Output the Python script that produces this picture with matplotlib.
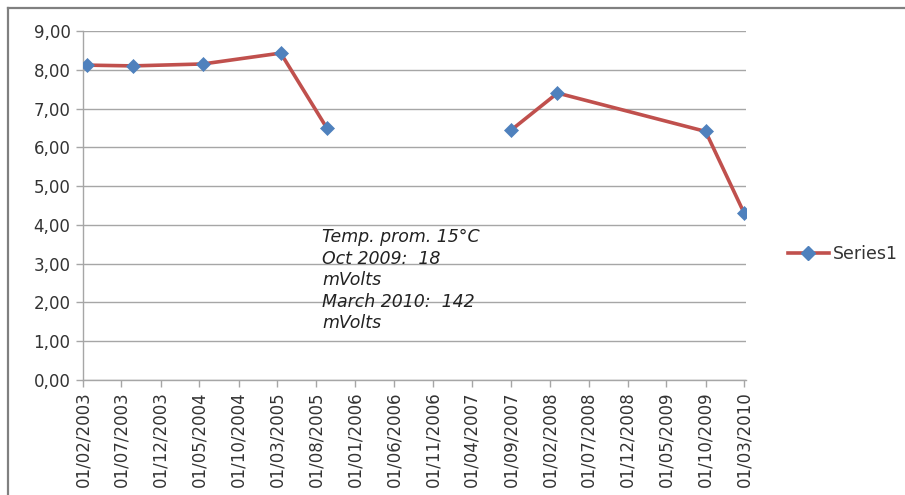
import numpy as np
import pandas as pd
import matplotlib
matplotlib.use('Agg')
import matplotlib.pyplot as plt
from matplotlib.lines import Line2D

plt.rcParams['font.family'] = ['DejaVu Sans']

# measurement dates (dd/mm/yyyy); the NaN row leaves the gap in the line
dates = ['15/02/2003', '15/08/2003', '15/05/2004', '15/03/2005', '12/09/2005',
         '01/06/2006',
         '01/09/2007', '01/03/2008', '01/10/2009', '01/03/2010']
values = [8.12, 8.10, 8.15, 8.43, 6.49,
          np.nan,
          6.44, 7.40, 6.41, 4.30]
series_name = 'Series1'

tick_dates = ['01/02/2003', '01/07/2003', '01/12/2003', '01/05/2004', '01/10/2004',
              '01/03/2005', '01/08/2005', '01/01/2006', '01/06/2006', '01/11/2006',
              '01/04/2007', '01/09/2007', '01/02/2008', '01/07/2008', '01/12/2008',
              '01/05/2009', '01/10/2009', '01/03/2010']
y_ticks = [0, 1, 2, 3, 4, 5, 6, 7, 8, 9]

note = 'Temp. prom. 15°C\nOct 2009:  18\nmVolts\nMarch 2010:  142\nmVolts'

x = pd.to_datetime(dates, dayfirst=True)
xt = pd.to_datetime(tick_dates, dayfirst=True)

fig = plt.figure(figsize=(9.05, 4.95), dpi=100)
ax = fig.add_axes([83 / 905, 1 - 380 / 495, (746 - 83) / 905, (380 - 31) / 495])

ax.plot(x, values, color='#C0504D', lw=2.6, marker='D', ms=7,
        mfc='#4F81BD', mec='#4F81BD', mew=0.5, label=series_name, zorder=3)

ax.set_xlim(xt[0], pd.Timestamp('2010-03-08'))
ax.set_ylim(0, 9)
ax.set_yticks(y_ticks)
ax.set_yticklabels([f'{v:.2f}'.replace('.', ',') for v in y_ticks])
ax.set_xticks(xt)
ax.set_xticklabels(tick_dates, rotation=90)

ax.grid(axis='y', color='#a6a6a6', lw=1)
ax.set_axisbelow(True)
for s in ['top', 'right']:
    ax.spines[s].set_visible(False)
for s in ['left', 'bottom']:
    ax.spines[s].set_color('#a6a6a6')
    ax.spines[s].set_linewidth(1)
ax.tick_params(axis='both', colors='#a6a6a6', labelcolor='#333333',
               labelsize=12, length=5, width=1)
ax.tick_params(axis='y', pad=4)
ax.tick_params(axis='x', pad=3)

# text box inside the plot
fig.text(322 / 905, 1 - 228 / 495, note, ha='left', va='top', fontsize=12.5,
         style='italic', color='#222222', linespacing=1.25)

leg = fig.legend(handles=[Line2D([], [], color='#C0504D', lw=2.6, marker='D', ms=7,
                                 mfc='#4F81BD', mec='#4F81BD')],
                 labels=[series_name], loc='center left',
                 bbox_to_anchor=(772 / 905, 1 - 254 / 495), frameon=False,
                 fontsize=12.5, handlelength=2.4, handletextpad=0.2)
for t in leg.get_texts():
    t.set_color('#333333')

# outer chart frame (only top and left edges are in view)
fig.add_artist(Line2D([8 / 905, 1], [1 - 8 / 495, 1 - 8 / 495], color='#808080', lw=1.6))
fig.add_artist(Line2D([8 / 905, 8 / 905], [0, 1 - 8 / 495], color='#808080', lw=1.6))

fig.savefig('out.png', dpi=100)
